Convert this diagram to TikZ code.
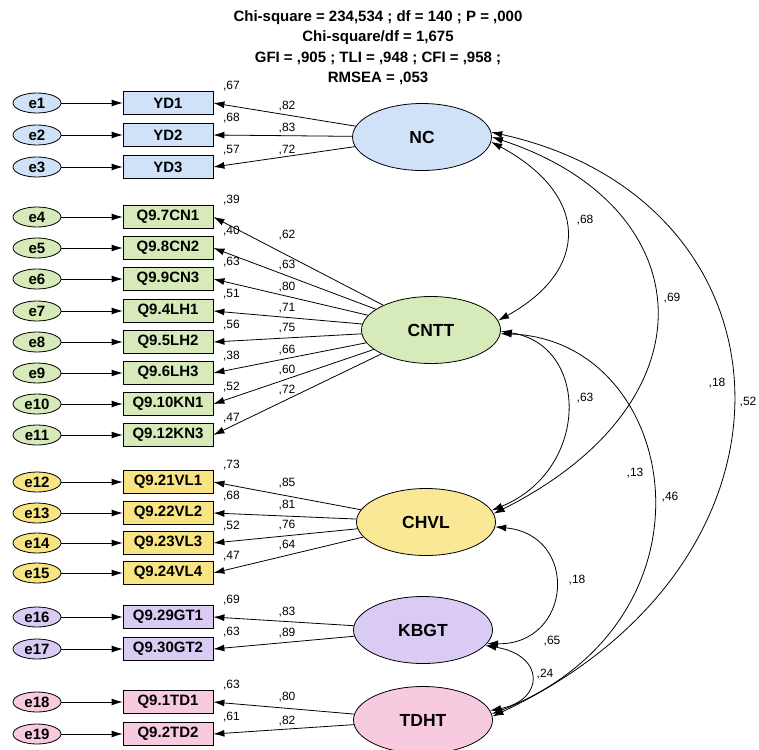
\documentclass[tikz,border=0pt]{standalone}
\usepackage{fontspec}
\setmainfont{Liberation Sans}
\usetikzlibrary{arrows.meta,shapes.geometric}
\definecolor{cblue}{HTML}{D0E2F8}
\definecolor{cgreen}{HTML}{D6EABA}
\definecolor{cyellow}{HTML}{F8E482}
\definecolor{cpurple}{HTML}{DACBF4}
\definecolor{cpink}{HTML}{F8CADF}

\begin{document}
\begin{tikzpicture}[x=1pt,y=-1pt,
  err/.style={ellipse,draw,line width=.8pt,minimum width=48pt,minimum height=20pt,inner sep=0pt,
    font=\fontsize{15}{15}\selectfont\bfseries},
  obs/.style={rectangle,draw,line width=.8pt,minimum width=90pt,minimum height=23pt,inner sep=0pt,
    font=\fontsize{15}{15}\selectfont\bfseries},
  fac/.style={ellipse,draw,line width=.8pt,minimum width=139pt,minimum height=67pt,inner sep=0pt,
    font=\fontsize{17.5}{17.5}\selectfont\bfseries},
  ld/.style={-{Latex[length=11pt,width=7pt]},line width=.8pt},
  cov/.style={{Latex[length=11pt,width=7pt]}-{Latex[length=11pt,width=7pt]},line width=.8pt},
  num/.style={font=\fontsize{12}{12}\selectfont,inner sep=0pt}]
\useasboundingbox (0,0) rectangle (759,749);

% fit indices
\node[font=\fontsize{15}{15}\selectfont\bfseries] (fit1) at (378,18) {Chi-square = 234,534 ; df = 140 ; P = ,000};
\node[font=\fontsize{15}{15}\selectfont\bfseries] (fit2) at (378,38) {Chi-square/df = 1,675};
\node[font=\fontsize{15}{15}\selectfont\bfseries] (fit3) at (378,58) {GFI = ,905 ; TLI = ,948 ; CFI = ,958 ;};
\node[font=\fontsize{15}{15}\selectfont\bfseries] (fit4) at (378,78) {RMSEA = ,053};

% latent factors
\node[fac,fill=cblue] (NC) at (422,137) {NC};
\node[fac,fill=cgreen] (CNTT) at (431,330) {CNTT};
\node[fac,fill=cyellow!85!white] (CHVL) at (426,522) {CHVL};
\node[fac,fill=cpurple] (KBGT) at (423,630) {KBGT};
\node[fac,fill=cpink] (TDHT) at (423,720) {TDHT};

% errors, items, loadings
\foreach \i/\lab/\y/\col/\f/\r/\l/\ly in {
  1/YD1/103/cblue/NC/{,67}/{,82}/106, 2/YD2/135/cblue/NC/{,68}/{,83}/128, 3/YD3/167/cblue/NC/{,57}/{,72}/150,
  4/Q9.7CN1/217/cgreen/CNTT/{,39}/{,62}/235, 5/Q9.8CN2/248/cgreen/CNTT/{,40}/{,63}/265,
  6/Q9.9CN3/279/cgreen/CNTT/{,63}/{,80}/287, 7/Q9.4LH1/311/cgreen/CNTT/{,51}/{,71}/308,
  8/Q9.5LH2/342/cgreen/CNTT/{,56}/{,75}/328, 9/Q9.6LH3/373/cgreen/CNTT/{,38}/{,66}/350,
  10/Q9.10KN1/404/cgreen/CNTT/{,52}/{,60}/370, 11/Q9.12KN3/435/cgreen/CNTT/{,47}/{,72}/390,
  12/Q9.21VL1/482/cyellow/CHVL/{,73}/{,85}/483, 13/Q9.22VL2/513/cyellow/CHVL/{,68}/{,81}/505,
  14/Q9.23VL3/543/cyellow/CHVL/{,52}/{,76}/525, 15/Q9.24VL4/573/cyellow/CHVL/{,47}/{,64}/545,
  16/Q9.29GT1/617/cpurple/KBGT/{,69}/{,83}/612, 17/Q9.30GT2/649/cpurple/KBGT/{,63}/{,89}/633,
  18/Q9.1TD1/702/cpink/TDHT/{,63}/{,80}/697, 19/Q9.2TD2/734/cpink/TDHT/{,61}/{,82}/721}{
  \node[err,fill=\col] (e\i) at (37,\y) {e\i};
  \node[obs,fill=\col] (ob\i) at (168,\y) {\lab};
  \draw[ld] (e\i) -- (ob\i);
  \draw[ld] (\f) -- (ob\i.east);
  \node[num] (r\i) at ([shift={(18,-5)}]ob\i.north east) {\r};
  \node[num] (l\i) at (287,\ly) {\l};
}

% correlations
\draw[cov] (NC.-4) .. controls (590,195) and (590,270) .. (CNTT.8);
\draw[cov] (NC.0) .. controls (700,205) and (720,400) .. (CHVL.7);
\draw[cov] (NC.4) .. controls (800,200) and (825,560) .. (TDHT.3);
\draw[cov] (CNTT.-1) .. controls (590,345) and (590,470) .. (CHVL.10);
\draw[cov] (CNTT.-3) .. controls (680,340) and (730,620) .. (TDHT.5);
\draw[cov] (CHVL.-4) .. controls (580,535) and (572,645) .. (KBGT.-12);
\draw[cov] (KBGT.-14) .. controls (545,655) and (545,700) .. (TDHT.8);

\foreach \v/\x/\y [count=\k] in {{,68}/585/220, {,69}/672/298, {,18}/717/383, {,52}/748/402, {,63}/585/398,
  {,13}/635/473, {,46}/670/497, {,18}/577/580, {,65}/552/641, {,24}/545/674}
  \node[num] (c\k) at (\x,\y) {\v};
\end{tikzpicture}
\end{document}
